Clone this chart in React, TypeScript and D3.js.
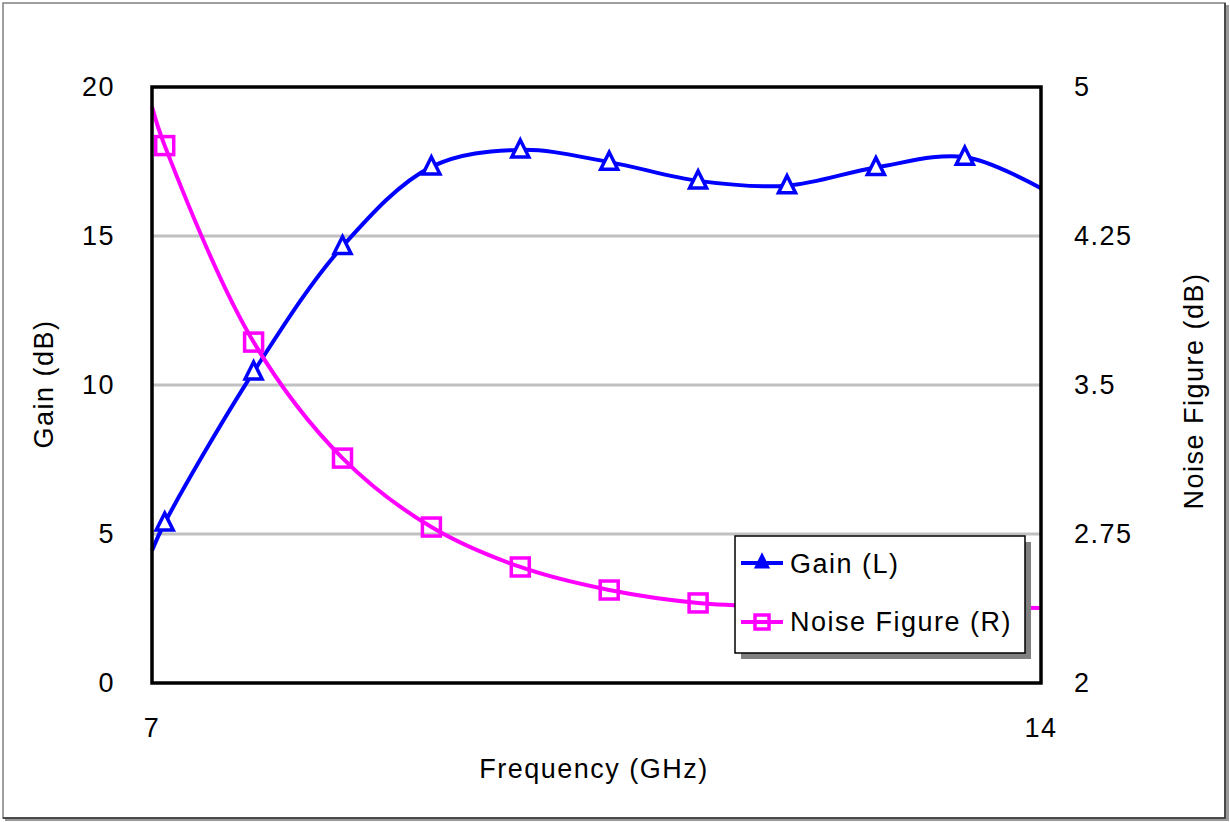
import React from "react";
import * as d3 from "d3";

const gainFreq = [7.0, 7.1, 7.8, 8.5, 9.2, 9.9, 10.6, 11.3, 12.0, 12.7, 13.4, 14.0];
const gainValues = [4.45, 5.37, 10.44, 14.65, 17.32, 17.89, 17.48, 16.85, 16.69, 17.3, 17.65, 16.6];
const nfFreq = [7.0, 7.1, 7.8, 8.5, 9.2, 9.9, 10.6, 11.3, 12.0, 12.7, 13.4, 14.0];
const nfValues = [4.9, 4.705, 3.716, 3.132, 2.785, 2.584, 2.468, 2.403, 2.385, 2.38, 2.38, 2.378];
// markers are shown at every data point except the end points
const markerFreq = [7.1, 7.8, 8.5, 9.2, 9.9, 10.6, 11.3, 12.0, 12.7, 13.4];

const leftTicks = [0, 5, 10, 15, 20];
const rightTicks = [2, 2.75, 3.5, 4.25, 5];
const rightTickLabels = ["2", "2.75", "3.5", "4.25", "5"];
const gridTicks = [5, 10, 15];
const xTicks = [7, 14];

const xTitle = "Frequency (GHz)";
const leftTitle = "Gain (dB)";
const rightTitle = "Noise Figure (dB)";
const legendLabels = ["Gain (L)", "Noise Figure (R)"];

const BLUE = "#0000ff";
const MAGENTA = "#ff00ff";
const FONT = "'Liberation Sans', Arial, sans-serif";

export default function App() {
  const W = 1230, H = 822;
  const L = 152, R = 1041, T = 87, B = 683;
  const x = d3.scaleLinear().domain([7, 14]).range([L, R]);
  const yL = d3.scaleLinear().domain([0, 20]).range([B, T]);
  const yR = d3.scaleLinear().domain([2, 5]).range([B, T]);

  const gainPts: [number, number][] = gainFreq.map((f, i) => [x(f), yL(gainValues[i])]);
  const nfPts: [number, number][] = nfFreq.map((f, i) => [x(f), yR(nfValues[i])]);
  const line = d3.line().curve(d3.curveCatmullRom.alpha(0.5));

  const gainMarkers = markerFreq.map((f) => {
    const i = gainFreq.indexOf(f);
    return [x(f), yL(gainValues[i])];
  });
  const nfMarkers = markerFreq.map((f) => {
    const i = nfFreq.indexOf(f);
    return [x(f), yR(nfValues[i])];
  });

  const tri = (cx: number, cy: number, s: number) =>
    `M${cx},${cy - s * 0.58}L${cx + s / 2},${cy + s * 0.42}L${cx - s / 2},${cy + s * 0.42}Z`;

  const textStyle: React.CSSProperties = { fontFamily: FONT, fontSize: 27, letterSpacing: "1.5px" };

  const lgX = 735, lgY = 536, lgW = 290, lgH = 117;

  return (
    <svg width={W} height={H} style={{ position: "absolute", left: 0, top: 0, background: "#fff" }}>
      <rect x={0} y={0} width={W} height={H} fill="#fff" />
      {/* outer frame with shadow */}
      <rect x={5} y={5} width={1224} height={816} fill="#9a9a9a" />
      <rect x={3} y={3} width={1222} height={815} fill="#fff" stroke="#808080" strokeWidth={1.5} />
      <path d="M1225,3V818H3" fill="none" stroke="#303030" strokeWidth={1.5} />
      {/* gridlines */}
      {gridTicks.map((t) => (
        <line key={t} x1={L} x2={R} y1={yL(t)} y2={yL(t)} stroke="#c0c0c0" strokeWidth={3} />
      ))}
      {/* lines */}
      <path d={line(gainPts) || ""} fill="none" stroke={BLUE} strokeWidth={4} />
      <path d={line(nfPts) || ""} fill="none" stroke={MAGENTA} strokeWidth={4} />
      {/* markers */}
      {nfMarkers.map(([cx, cy], i) => (
        <rect key={"s" + i} x={cx - 9} y={cy - 9} width={18} height={18} fill="none" stroke={MAGENTA} strokeWidth={3.5} />
      ))}
      {gainMarkers.map(([cx, cy], i) => (
        <path key={"t" + i} d={tri(cx, cy, 17)} fill="#fff" stroke={BLUE} strokeWidth={3.5} strokeLinejoin="miter" />
      ))}
      {/* plot frame */}
      <rect x={L} y={T} width={R - L} height={B - T} fill="none" stroke="#000" strokeWidth={3.5} />
      {/* left ticks */}
      {leftTicks.map((t) => (
        <text key={t} x={115} y={yL(t)} textAnchor="end" dominantBaseline="central" style={textStyle}>
          {t}
        </text>
      ))}
      {/* right ticks */}
      {rightTicks.map((t, i) => (
        <text key={t} x={1074} y={yR(t)} textAnchor="start" dominantBaseline="central" style={textStyle}>
          {rightTickLabels[i]}
        </text>
      ))}
      {/* x ticks */}
      {xTicks.map((t) => (
        <text key={t} x={x(t)} y={737} textAnchor="middle" style={textStyle}>
          {t}
        </text>
      ))}
      <text x={594} y={778} textAnchor="middle" style={textStyle}>{xTitle}</text>
      <text transform="translate(44,384) rotate(-90)" textAnchor="middle" dominantBaseline="central" style={textStyle}>
        {leftTitle}
      </text>
      <text transform="translate(1194,391) rotate(-90)" textAnchor="middle" dominantBaseline="central" style={textStyle}>
        {rightTitle}
      </text>
      {/* legend */}
      <rect x={lgX + 6} y={lgY + 6} width={lgW} height={lgH} fill="#808080" />
      <rect x={lgX} y={lgY} width={lgW} height={lgH} fill="#fff" stroke="#000" strokeWidth={1.5} />
      <line x1={lgX + 6} x2={lgX + 48} y1={lgY + 27} y2={lgY + 27} stroke={BLUE} strokeWidth={4} />
      <path d={tri(lgX + 27, lgY + 26, 13)} fill={BLUE} stroke={BLUE} strokeWidth={2} />
      <line x1={lgX + 6} x2={lgX + 48} y1={lgY + 86} y2={lgY + 86} stroke={MAGENTA} strokeWidth={4} />
      <rect x={lgX + 20} y={lgY + 79} width={14} height={14} fill="none" stroke={MAGENTA} strokeWidth={3.5} />
      <text x={lgX + 55} y={lgY + 28} dominantBaseline="central" style={textStyle}>{legendLabels[0]}</text>
      <text x={lgX + 55} y={lgY + 86} dominantBaseline="central" style={textStyle}>{legendLabels[1]}</text>
    </svg>
  );
}
